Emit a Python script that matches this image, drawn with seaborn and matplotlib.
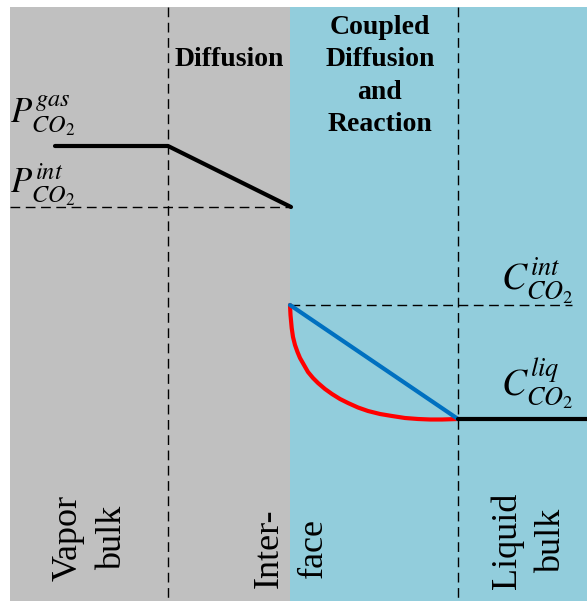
import matplotlib
matplotlib.use("Agg")
import matplotlib.pyplot as plt
import seaborn as sns
import pandas as pd

# ---- schematic layout (drawing units, y grows downward) ----
vapor_zone = [10, 290]
liquid_zone = [290, 587]
zone_top, zone_bottom = 7, 601
divider_x = [168, 458]

# ---- CO2 profiles ----
gas_x = [55, 168, 291]
gas_y = [146, 146, 207]

diffusion_x = [290, 458]
diffusion_y = [305, 419]

reaction_x = [290, 290.5, 291.7, 293, 295, 297.5, 300, 304, 308, 313, 318,
              325, 332, 340, 348, 358, 368, 380, 392, 405, 418, 430, 442, 458]
reaction_y = [305, 315, 328, 337, 345, 352, 358, 365, 372, 378, 383,
              389, 394, 399, 403, 407.5, 411, 414, 416, 418, 419, 419.5, 419.5, 419]

bulk_x = [458, 587]
bulk_y = [419, 419]

# reference levels (dashed guides)
p_int_level, p_int_span = 207, [10, 290]
c_int_level, c_int_span = 305, [290, 572]

zone_titles = ["Diffusion", "Coupled\nDiffusion\nand\nReaction"]
region_labels = ["Vapor\nbulk", "Inter-\nface", "Liquid\nbulk"]
level_labels = [r"$P_{CO_2}^{gas}$", r"$P_{CO_2}^{int}$",
                r"$C_{CO_2}^{int}$", r"$C_{CO_2}^{liq}$"]

GRAY = "#C0C0C0"
AQUA = "#92CDDC"

sns.set_theme(style="white")
plt.rcParams["font.family"] = ["Liberation Serif", "DejaVu Serif"]
plt.rcParams["mathtext.fontset"] = "stix"
plt.rcParams["text.color"] = "black"

fig = plt.figure(figsize=(5.87, 6.03), dpi=100)
ax = fig.add_axes([0, 0, 1, 1])

# phase backgrounds
ax.fill_between(vapor_zone, zone_top, zone_bottom, color=GRAY, lw=0, zorder=0)
ax.fill_between(liquid_zone, zone_top, zone_bottom, color=AQUA, lw=0, zorder=0)

# dashed dividers and level guides
dash = dict(color="black", lw=1.0, dashes=(7, 4), zorder=1)
for xv in divider_x:
    ax.plot([xv, xv], [zone_top, zone_bottom - 3], **dash)
ax.plot(p_int_span, [p_int_level, p_int_level], **dash)
ax.plot(c_int_span, [c_int_level, c_int_level], **dash)

# concentration profiles
def profile(x, y, color):
    df = pd.DataFrame({"x": x, "y": y})
    sns.lineplot(data=df, x="x", y="y", ax=ax, sort=False, estimator=None,
                 color=color, lw=3.0, solid_capstyle="round",
                 solid_joinstyle="round", zorder=3)

profile(gas_x, gas_y, "black")
profile(reaction_x, reaction_y, "#FF0000")
profile(diffusion_x, diffusion_y, "#0070C0")
profile(bulk_x, bulk_y, "black")

ax.set_xlim(0, 587)
ax.set_ylim(603, 0)
ax.axis("off")

# zone titles
ax.text(229, 66, zone_titles[0], ha="center", va="baseline",
        fontsize=20, fontweight="bold", color="black")
ax.text(380, 76, zone_titles[1], ha="center", va="center",
        fontsize=20, fontweight="bold", linespacing=1.38, color="black")

# region labels (rotated)
for (cx, cy), lab in zip([(90, 538), (291, 548), (529, 541)], region_labels):
    ax.text(cx, cy, lab, rotation=90, ha="center", va="center",
            multialignment="center", fontsize=26, linespacing=1.45,
            color="black")

# level labels
ax.text(10, 123, level_labels[0], ha="left", va="baseline", fontsize=25)
ax.text(10, 193, level_labels[1], ha="left", va="baseline", fontsize=25)
ax.text(573, 290, level_labels[2], ha="right", va="baseline", fontsize=27)
ax.text(573, 395, level_labels[3], ha="right", va="baseline", fontsize=27)

fig.savefig("out.png", dpi=100, facecolor="white")
